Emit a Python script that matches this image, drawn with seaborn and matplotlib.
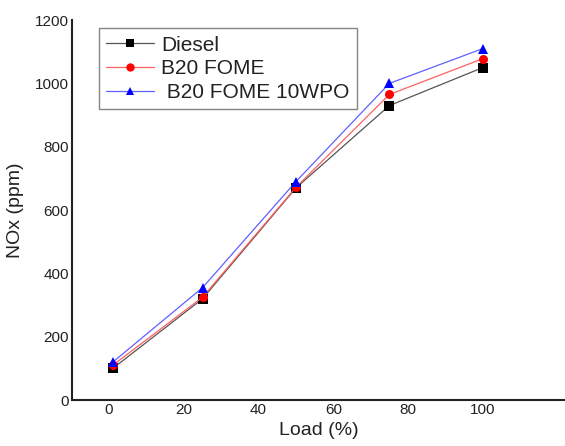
import pandas as pd
import matplotlib
matplotlib.use('Agg')
import matplotlib.pyplot as plt
import seaborn as sns

# -------------------------------
# Data
# -------------------------------
load = [1, 25, 50, 75, 100]
diesel = [100, 320, 670, 930, 1050]
b20fome = [110, 325, 672, 965, 1078]
b20fome10wpo = [120, 355, 690, 1000, 1110]

series_names = ['Diesel', 'B20 FOME', ' B20 FOME 10WPO']
series_values = [diesel, b20fome, b20fome10wpo]

rows = []
for name, vals in zip(series_names, series_values):
    for x, y in zip(load, vals):
        rows.append({'Load': x, 'NOx': y, 'Fuel': name})
df = pd.DataFrame(rows)

# -------------------------------
# Plot
# -------------------------------
sns.set_style('white')
plt.rcParams['font.family'] = ['Liberation Sans', 'DejaVu Sans']

fig = plt.figure(figsize=(5.65, 4.46), dpi=100)
ax = fig.add_axes([0.127, 0.103, 0.873, 0.852])

palette = dict(zip(series_names, ['black', 'red', 'blue']))
markers = dict(zip(series_names, ['s', 'o', '^']))
line_colors = {'black': '#555555', 'red': '#ff6060', 'blue': '#6060ff'}

sns.lineplot(data=df, x='Load', y='NOx', hue='Fuel', style='Fuel',
             palette=palette, markers=markers, dashes=False,
             markersize=6.5, linewidth=0.9, markeredgewidth=0,
             hue_order=series_names, ax=ax)

ax.set_xlim(-10, 122)
ax.set_ylim(0, 1200)
ax.set_xticks([0, 20, 40, 60, 80, 100])
ax.set_yticks(range(0, 1201, 200))
ax.tick_params(length=0, pad=2, labelsize=11, colors='#222222')

for side in ['top', 'right']:
    ax.spines[side].set_visible(False)
for side in ['left', 'bottom']:
    ax.spines[side].set_color('#222222')
    ax.spines[side].set_linewidth(1.5)

ax.set_xlabel('Load (%)', fontsize=14, color='#222222', labelpad=4)
ax.set_ylabel('NOx (ppm)', fontsize=14, color='#222222', labelpad=8)

leg = ax.legend(loc='upper left', bbox_to_anchor=(0.055, 0.978), fontsize=15,
                frameon=True, fancybox=False, edgecolor='#666666',
                borderaxespad=0, handlelength=2.3, handletextpad=0.35,
                borderpad=0.35, labelspacing=0.22)
leg.get_frame().set_linewidth(1.0)

# lighter connecting lines, solid markers
for line in list(ax.get_lines()) + list(leg.legend_handles):
    c = line.get_color()
    if c in line_colors:
        line.set_markerfacecolor(c)
        line.set_markeredgecolor(c)
        line.set_color(line_colors[c])
        line.set_linewidth(0.9)
for h in leg.legend_handles:
    h.set_markersize(6)

for t in leg.get_texts():
    t.set_color('#222222')

fig.savefig('out.png', dpi=100)
